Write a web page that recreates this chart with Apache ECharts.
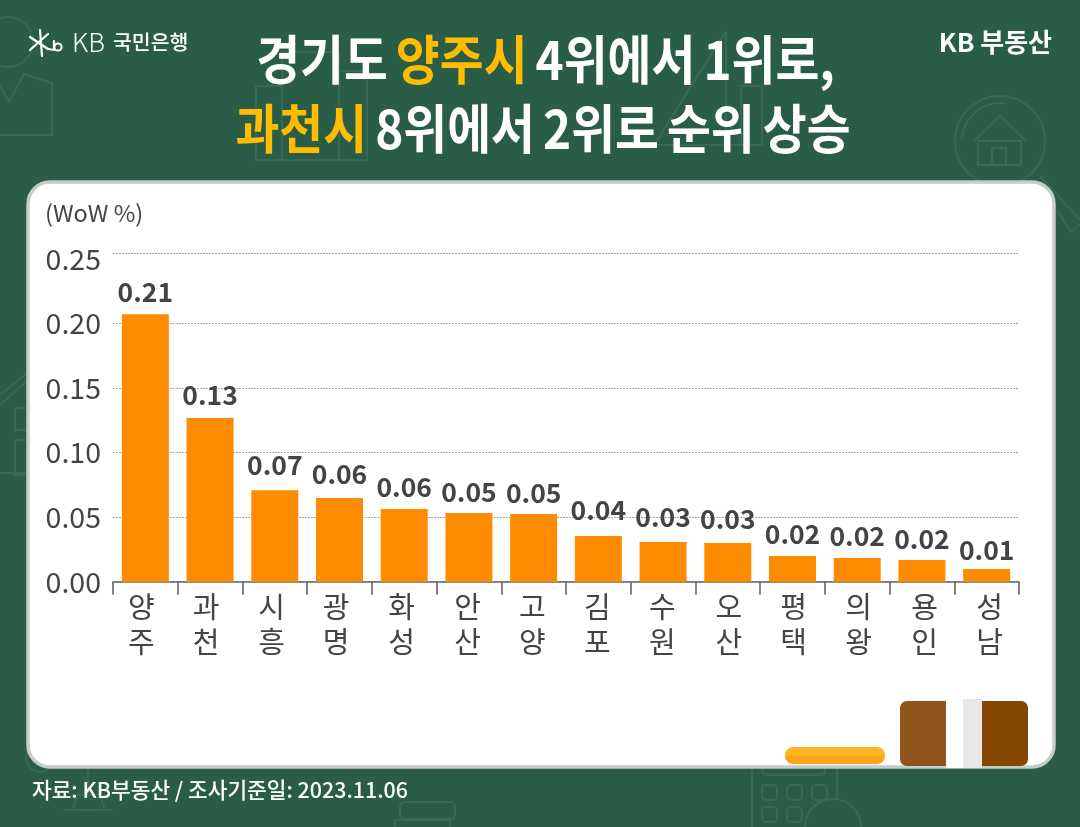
<!DOCTYPE html>
<html><head><meta charset="utf-8">
<style>html,body{margin:0;padding:0;background:#2a5d47}#c{width:1080px;height:827px}</style>
<script src="https://cdn.jsdelivr.net/npm/echarts@6/dist/echarts.min.js"></script></head>
<body><div id="c"></div>
<script>
const categories = ['양주','과천','시흥','광명','화성','안산','고양','김포','수원','오산','평택','의왕','용인','성남'];
const values = [0.207,0.1267,0.0707,0.0648,0.0563,0.0532,0.0524,0.0354,0.0307,0.03,0.0199,0.0183,0.0168,0.0098];
const yLabels = [0,0.05,0.10,0.15,0.20,0.25];
const yGridLines = [0,0.05,0.10,0.15,0.20,0.2544]; // the top rule sits a little above 0.25 in the source

// Layout only: hand-placed offsets seen in the source
const labelGap = [9,10,12,11,9,8,8,13,12,11,9,9,8,6];
const nameNudge = [-4,-4,-3.3,-3.3,-2.7,-1.4,-1.3,-1.1,-0.8,1,1,1.4,2.7,3];

const FONT = '"Noto Sans CJK KR"';
const BG = '#2a5d47', DECO = '#376955', INK = '#444444';

const deco = (shape, type) => ({type: type, silent: true, z: -10, shape: shape,
  style: {fill: 'none', stroke: DECO, lineWidth: 2}});
const poly = pts => deco({points: pts}, 'polyline');
const rrect = (x,y,w,h,r) => deco({x,y,width:w,height:h,r:r||0}, 'rect');
const circ = (cx,cy,r) => deco({cx,cy,r}, 'circle');
const solid = (x,y,w,h,r,c) => ({type:'rect',silent:true,z:-5,shape:{x,y,width:w,height:h,r:r},style:{fill:c}});
const txt = (x,y,text,size,weight,color,align,extra) => Object.assign({type:'text',silent:true,z:20,x,y,
  style:{text,fontFamily:FONT,fontSize:size,fontWeight:weight,fill:color,align:align||'left',verticalAlign:'middle'}},extra||{});
const logoLine = (x1,y1,x2,y2) => ({type:'line',silent:true,z:20,shape:{x1,y1,x2,y2},style:{stroke:'#fff',lineWidth:2.2,lineCap:'round'}});

const decorations = [
  circ(8,42,25), poly([[0,86],[9,102],[24,74],[52,83],[52,135],[0,135]]),
  rrect(256,86,26,74), rrect(282,52,57,108), rrect(339,71,28,89),
  poly([[726,31],[654,145],[760,145]]), poly([[726,31],[726,145]]), rrect(741,86,21,59),
  circ(1000,141,45), deco({cx:1000,cy:141,r:38,startAngle:Math.PI*1.02,endAngle:Math.PI*1.55,clockwise:true},'arc'),
  poly([[974,141],[1000,116],[1026,141]]), rrect(978,141,43,24), rrect(992,148,14,17),
  poly([[1040,176],[1080,220]]), poly([[1057,210],[1071,232],[1080,224]]),
  poly([[0,395],[27,373]]), poly([[0,405],[27,381]]), rrect(15,408,14,22), rrect(15,440,14,35), poly([[0,473],[27,473]]),
  circ(40,758,14), poly([[88,768],[88,795]]), poly([[72,810],[78,795],[100,795],[105,810]]), poly([[63,810],[113,810]]),
  rrect(400,802,55,17,5), poly([[395,827],[395,820],[450,820],[450,827]]),
  poly([[752,768],[752,827]]), poly([[837,768],[837,800]]), rrect(762,760,63,15,4),
  rrect(762,785,15,15,4), rrect(787,785,15,15,4), rrect(812,785,15,15,4),
  rrect(762,807,15,15,4), rrect(787,807,15,15,4), circ(833,827,28)
];

const pillFill = {type:'linear',x:0,y:0,x2:0,y2:1,colorStops:[{offset:0,color:'#feb61e'},{offset:0.5,color:'#feb61e'},{offset:0.5,color:'#fba51c'},{offset:1,color:'#fba51c'}]};
const panelBits = [
  {type:'rect',silent:true,z:-6,shape:{x:28,y:182,width:1026,height:585,r:22},
   style:{fill:'#ffffff',stroke:'#c8cbc8',lineWidth:3.5}},
  solid(785,747,100,17,8,pillFill), solid(900,701,46,65,[7,0,0,7],'#8f551a'),
  solid(946,699,17,69,0,'#ffffff'), solid(963,699,19,69,0,'#e8e8e8'), solid(982,701,46,65,[0,7,7,0],'#844600')
];

const bigTag = c => ({fill:c,fontFamily:FONT,fontSize:53,fontWeight:700});
const titleText = (x,y,text,sx) => ({type:'text',silent:true,z:20,x,y,scaleX:sx,
  style:{text,fontFamily:FONT,fontSize:53,fontWeight:700,fill:'#fff',align:'center',verticalAlign:'middle',
    rich:{w:bigTag('#fff'),y:bigTag('#ffbc00'),s:{fontFamily:FONT,fontSize:40,fill:'#fff'}}}});

const texts = [
  titleText(545.5,60,'{w|경기도}{s| }{y|양주시}{s| }{w|4위에서}{s| }{w|1위로,}',0.9),
  titleText(543,129,'{y|과천시}{s| }{w|8위에서}{s| }{w|2위로}{s| }{w|순위}{s| }{w|상승}',0.9),
  txt(72,42,'KB',26,300,'#fff'), txt(113,42,'국민은행',20.5,500,'#fff'),
  logoLine(30,37,48,49), logoLine(30,50,48,34), logoLine(40,30,42,56), logoLine(48,49,55,50), logoLine(54,41,54,48),
  {type:'circle',silent:true,z:20,shape:{cx:58,cy:47,r:3.6},style:{fill:'none',stroke:'#fff',lineWidth:2}},
  txt(1052,42,'KB 부동산',26,700,'#fff','right'),
  txt(45,213,'(WoW %)',23.5,400,INK),
  txt(32,790,'자료: KB부동산 / 조사기준일: 2023.11.06',21.4,500,'#fff')
];

const chart = echarts.init(document.getElementById('c'), null, {renderer:'canvas',width:1080,height:827});
chart.setOption({
  animation:false,
  backgroundColor:BG,
  graphic:{elements:[...decorations,...panelBits,...texts]},
  grid:{left:113,right:61,top:253,bottom:245.3,containLabel:false},
  xAxis:{type:'category',
    data:categories.map((c,i)=>({value:c,textStyle:{padding:[0,Math.max(0,-2*nameNudge[i]),0,Math.max(0,2*nameNudge[i])]}})),
    axisLine:{lineStyle:{color:'#666',width:1.6}},
    axisTick:{show:true,alignWithLabel:false,length:13,lineStyle:{color:'#666',width:1.6}},
    axisLabel:{interval:0,margin:8,color:INK,fontFamily:FONT,fontSize:29,lineHeight:35,
      formatter:v=>v.split('').join('\n')}},
  yAxis:{type:'value',min:0,max:0.2544,
    axisLine:{show:false},
    axisTick:{show:false,customValues:yGridLines},
    axisLabel:{customValues:yLabels,margin:12,padding:[0,0,3,0],color:INK,fontFamily:FONT,fontSize:28.5,formatter:v=>v.toFixed(2)},
    splitLine:{show:true,lineStyle:{color:'#a8a8a8',type:[2,1],width:1}}},
  series:[{type:'bar',barWidth:47,itemStyle:{color:'#ff8c00'},
    data:values.map((v,i)=>({value:v,label:{distance:labelGap[i]}})),
    label:{show:true,position:'top',color:INK,fontFamily:FONT,fontSize:26.5,fontWeight:700,
      formatter:p=>p.value.toFixed(2)}}]
});
</script></body></html>
